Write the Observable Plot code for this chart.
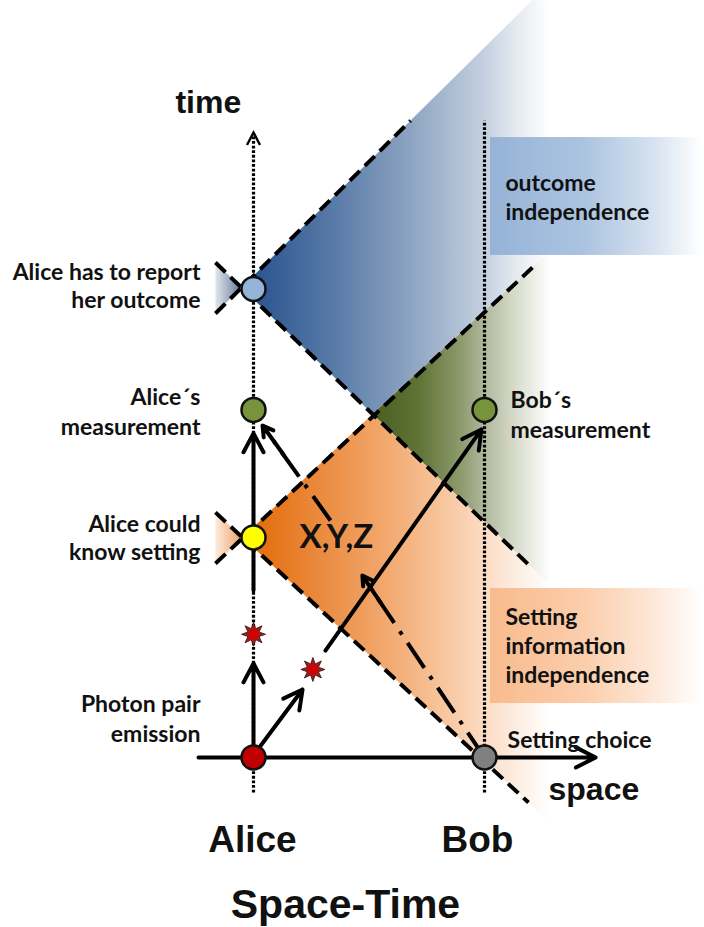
<!DOCTYPE html>
<html>
<head>
<meta charset="utf-8">
<script src="https://cdn.jsdelivr.net/npm/d3@7"></script>
<script src="https://cdn.jsdelivr.net/npm/@observablehq/plot@0.6"></script>
<style>
  html, body { margin: 0; padding: 0; background: #ffffff; }
</style>
</head>
<body>
<div id="chart"></div>
<script>
// ---------- data (space s, time t; one unit = one light-step) ----------
// events on the world-lines
const eventKinds = ["Photon pair emission", "Setting choice", "Alice could know setting", "Alice´s measurement", "Bob´s measurement", "Alice has to report"];
const eventS = [0, 10.5, 0, 0, 10.5, 0];
const eventT = [0, 0, 10, 15.8, 15.8, 21.3];
const eventColors = ["#c00000", "#808080", "#ffff00", "#77933c", "#77933c", "#95b3d7"];

// photons in flight
const photonS = [0, 2.7];
const photonT = [5.6, 4.0];

// light-cone boundaries (dashed)
const coneS1 = [-1.73, -1.73, -1.73, -1.73];
const coneT1 = [22.5, 20.18, 8.82, 11.14];
const coneS2 = [12.59, 7.14, 12.68, 12.5];
const coneT2 = [8.68, 28.95, 22.27, -2.05];

// shaded regions (vertices)
const blueConeS = [-0.55, 12.66, 15.77, 15.77, 5.41];
const blueConeT = [21.36, 34.41, 34.41, 25.16, 15.61];
const greenConeS = [5.41, 15.77, 15.77];
const greenConeT = [15.61, 25.16, 5.61];
const orangeConeS = [-0.5, 5.41, 15.77, 15.77];
const orangeConeT = [10.0, 15.61, 5.61, -5.08];
const blueWedgeS = [-1.73, -0.55, -1.73];
const blueWedgeT = [22.5, 21.36, 20.18];
const orangeWedgeS = [-1.73, -0.5, -1.73];
const orangeWedgeT = [11.14, 10.0, 8.82];

// solid arrows (photon paths)
const arrowS1 = [0, 0, 0.23, 3.27];
const arrowT1 = [0.5, 7.59, 0.41, 4.86];
const arrowS2 = [0, 0, 2.23, 10.36];
const arrowT2 = [4.27, 14.73, 3.09, 14.91];

// dash-dot influence path (setting -> X,Y,Z -> Alice)
const infoS1 = [10.5, 3.5];
const infoT1 = [0, 10.77];
const infoS2 = [4.95, 0.41];
const infoT2 = [8.27, 15.09];
const infoHeadS = [5.77, 1.36];
const infoHeadT = [7.05, 13.77];

// world-lines (dotted)
const worldS = [0, 10.5];
const worldT1 = [-1.59, -1.59];
const worldT2 = [28.35, 28.95];

// side boxes
const boxNames = ["outcome independence", "Setting information independence"];
const boxS1 = [10.77, 10.77];
const boxS2 = [20.5, 20.5];
const boxT1 = [28.18, 7.68];
const boxT2 = [22.82, 2.45];

// labels
const leftLabels = ["Alice has to report", "her outcome", "Alice´s", "measurement", "Alice could", "know setting", "Photon pair", "emission"];
const leftLabelT = [22.05, 20.77, 16.36, 15.0, 10.59, 9.32, 2.41, 1.05];
const rightLabels = ["Bob´s", "measurement", "outcome", "independence", "Setting", "information", "independence", "Setting choice"];
const rightLabelS = [11.68, 11.68, 11.45, 11.45, 11.45, 11.45, 11.45, 11.55];
const rightLabelT = [16.23, 14.86, 26.09, 24.77, 6.36, 5.05, 3.73, 0.78];
const bigLabels = ["time", "space", "Alice", "Bob", "Space-Time"];
const bigLabelS = [-3.55, 13.41, -0.05, 10.18, 4.18];
const bigLabelT = [29.74, -1.49, -3.78, -3.78, -6.68];
const bigLabelSize = [32, 32, 37, 37, 41];
const bigLabelAnchor = ["start", "start", "middle", "middle", "middle"];

// ---------- build tables ----------
const zipST = (S, T) => S.map((s, i) => ({s, t: T[i]}));
const events = eventKinds.map((k, i) => ({kind: k, s: eventS[i], t: eventT[i]}));
const photons = zipST(photonS, photonT);
const cones = coneS1.map((s, i) => ({s1: s, t1: coneT1[i], s2: coneS2[i], t2: coneT2[i]}));
const arrows = arrowS1.map((s, i) => ({s1: s, t1: arrowT1[i], s2: arrowS2[i], t2: arrowT2[i]}));
const infoLines = infoS1.map((s, i) => ({s1: s, t1: infoT1[i], s2: infoS2[i], t2: infoT2[i]}));
const infoHeads = infoHeadS.map((s, i) => ({s1: s, t1: infoHeadT[i], s2: infoS2[i], t2: infoT2[i]}));
const worlds = worldS.map((s, i) => ({s, t1: worldT1[i], t2: worldT2[i]}));
const boxes = boxNames.map((n, i) => ({name: n, s1: boxS1[i], s2: boxS2[i], t1: boxT1[i], t2: boxT2[i]}));
const lefts = leftLabels.map((l, i) => ({label: l, s: -2.41, t: leftLabelT[i]}));
const rights = rightLabels.map((l, i) => ({label: l, s: rightLabelS[i], t: rightLabelT[i]}));
const bigs = bigLabels.map((l, i) => ({label: l, s: bigLabelS[i], t: bigLabelT[i], size: bigLabelSize[i], anchor: bigLabelAnchor[i]}));

// 8-point burst symbol for photons
const burst = {
  draw(ctx, size) {
    const R = Math.sqrt(size / Math.PI), r = R * 0.5;
    for (let i = 0; i < 16; ++i) {
      const a = i * Math.PI / 8 - Math.PI / 2, rr = i % 2 ? r : R;
      const x = rr * Math.cos(a), y = rr * Math.sin(a);
      i ? ctx.lineTo(x, y) : ctx.moveTo(x, y);
    }
    ctx.closePath();
  }
};
// open chevron head for the time axis
const chevron = {
  draw(ctx, l) {
    const w = l * 0.52;
    ctx.moveTo(-w, 0);
    ctx.lineTo(0, -l);
    ctx.lineTo(w, 0);
  }
};

const LATO = "Lato, 'Open Sans', sans-serif";
const ARIAL = "'Liberation Sans', Arial, sans-serif";

const plot = Plot.plot({
  width: 704,
  height: 927,
  margin: 0,
  x: {domain: [-11.5, 20.5], axis: null},
  y: {domain: [-7.73, 34.41], axis: null},
  color: {domain: eventKinds, range: eventColors},
  style: {background: "#ffffff", color: "#111111"},
  marks: [
    // regions
    Plot.line(zipST(blueConeS, blueConeT), {x: "s", y: "t", fill: "url(#gBlue)", stroke: "none"}),
    Plot.line(zipST(greenConeS, greenConeT), {x: "s", y: "t", fill: "url(#gGreen)", stroke: "none"}),
    Plot.line(zipST(orangeConeS, orangeConeT), {x: "s", y: "t", fill: "url(#gOrange)", stroke: "none"}),
    Plot.line(zipST(blueWedgeS, blueWedgeT), {x: "s", y: "t", fill: "url(#gBlueWedge)", stroke: "none"}),
    Plot.line(zipST(orangeWedgeS, orangeWedgeT), {x: "s", y: "t", fill: "url(#gOrangeWedge)", stroke: "none"}),
    // boxes
    Plot.rect(boxes.slice(0, 1), {x1: "s1", x2: "s2", y1: "t1", y2: "t2", fill: "url(#gBoxBlue)"}),
    Plot.rect(boxes.slice(1), {x1: "s1", x2: "s2", y1: "t1", y2: "t2", fill: "url(#gBoxOrange)"}),
    // world-lines
    Plot.link(worlds, {x1: "s", x2: "s", y1: "t1", y2: "t2", stroke: "#000", strokeWidth: 3.2, strokeDasharray: "2.8,1.8"}),
    Plot.vector(worlds.slice(0, 1), {x: "s", y: () => 28.41, length: 12.5, rotate: 0, anchor: "end", shape: chevron, stroke: "#000", strokeWidth: 2.4, strokeLinejoin: "miter", strokeLinecap: "butt"}),
    // light cones
    Plot.link(cones, {x1: "s1", y1: "t1", x2: "s2", y2: "t2", stroke: "#000", strokeWidth: 4, strokeDasharray: "14,7"}),
    // space axis
    Plot.arrow([{s1: -2.5, s2: 15.55, t: 0}], {x1: "s1", x2: "s2", y1: "t", y2: "t", stroke: "#000", strokeWidth: 4, headLength: 8.3, headAngle: 54}),
    // dash-dot information path
    Plot.link(infoLines, {x1: "s1", y1: "t1", x2: "s2", y2: "t2", stroke: "#000", strokeWidth: 4, strokeDasharray: "30,10,4,10", ariaLabel: "shadowed"}),
    Plot.arrow(infoHeads, {x1: "s1", y1: "t1", x2: "s2", y2: "t2", stroke: "#000", strokeWidth: 4, headLength: 5, headAngle: 60, ariaLabel: "shadowed"}),
    // photon arrows
    Plot.arrow(arrows, {x1: "s1", y1: "t1", x2: "s2", y2: "t2", stroke: "#000", strokeWidth: 4, headLength: 8, headAngle: 56, ariaLabel: "shadowed"}),
    // photons
    Plot.dot(photons, {x: "s", y: "t", symbol: burst, r: 12, fill: "#9a1e1e", stroke: "#3d0d0d", strokeWidth: 0.8}),
    Plot.dot(photons, {x: "s", y: "t", r: 5.2, fill: "#d40000", stroke: "none"}),
    // events
    Plot.dot(events, {x: "s", y: "t", r: 12, fill: "kind", stroke: "#111", strokeWidth: 2.5}),
    // labels
    Plot.text(lefts, {x: "s", y: "t", text: "label", textAnchor: "end", fontSize: 23, fontWeight: "bold", fontFamily: LATO}),
    Plot.text(rights, {x: "s", y: "t", text: "label", textAnchor: "start", fontSize: 23, fontWeight: "bold", fontFamily: LATO}),
    Plot.text(["X,Y,Z"], {x: () => 3.77, y: () => 10.0, text: d => d, fontSize: 33, fontWeight: "bold", fontFamily: LATO}),
    Plot.text(bigs.filter(d => d.anchor === "start"), {x: "s", y: "t", text: "label", textAnchor: "start", fontSize: 32, fontWeight: "bold", fontFamily: ARIAL}),
    Plot.text(bigs.filter(d => d.size === 37), {x: "s", y: "t", text: "label", textAnchor: "middle", fontSize: 37, fontWeight: "bold", fontFamily: ARIAL}),
    Plot.text(bigs.filter(d => d.size === 41), {x: "s", y: "t", text: "label", textAnchor: "middle", fontSize: 41, fontWeight: "bold", fontFamily: ARIAL})
  ]
});

// ---------- gradients & shadow ----------
const sx = plot.scale("x");
const X = d3.scaleLinear(sx.domain, sx.range);
const gradients = {
  gBlue: [[0, "#2b548f"], [3, "#4f73a3"], [7, "#8ba2c0"], [10.5, "#c4d0e0"], [12, "#e6ebf1"], [13.5, "#ffffff"]],
  gGreen: [[5.4, "#4a5e23"], [7.5, "#5f7335"], [9.5, "#8f9c70"], [10.5, "#b0b89c"], [12, "#dadecf"], [13.5, "#ffffff"]],
  gOrange: [[0, "#e36c0a"], [3, "#ea8a3e"], [6, "#f2a86e"], [9, "#f8caa5"], [10.5, "#fbdcc4"], [12, "#fdeee2"], [13.5, "#ffffff"]],
  gBlueWedge: [[-1.9, "#f4f6f8"], [-0.5, "#5a7396"]],
  gOrangeWedge: [[-1.9, "#fff5ee"], [-0.5, "#ee9f66"]],
  gBoxBlue: [[10.77, "#95b3d7"], [15, "#abc3e0"], [18, "#d3e0ef"], [20.4, "#ffffff"]],
  gBoxOrange: [[10.77, "#f8bb8d"], [15, "#fbcdab"], [18, "#fde6d5"], [20.4, "#ffffff"]]
};
const svg = d3.select(plot);
const defs = svg.insert("defs", ":first-child");
for (const [id, stops] of Object.entries(gradients)) {
  const x1 = X(stops[0][0]), x2 = X(stops[stops.length - 1][0]);
  const g = defs.append("linearGradient").attr("id", id)
    .attr("gradientUnits", "userSpaceOnUse")
    .attr("x1", x1).attr("x2", x2).attr("y1", 0).attr("y2", 0);
  for (const [s, c] of stops) {
    g.append("stop").attr("offset", (X(s) - x1) / (x2 - x1)).attr("stop-color", c);
  }
}
const f = defs.append("filter").attr("id", "shadow").attr("x", "-20%").attr("y", "-20%").attr("width", "140%").attr("height", "140%");
f.append("feDropShadow").attr("dx", 2.5).attr("dy", 2.5).attr("stdDeviation", 1.6).attr("flood-color", "#000").attr("flood-opacity", 0.35);
svg.selectAll('g[aria-label="shadowed"]').attr("filter", "url(#shadow)");

document.getElementById("chart").appendChild(plot);
</script>
</body>
</html>
